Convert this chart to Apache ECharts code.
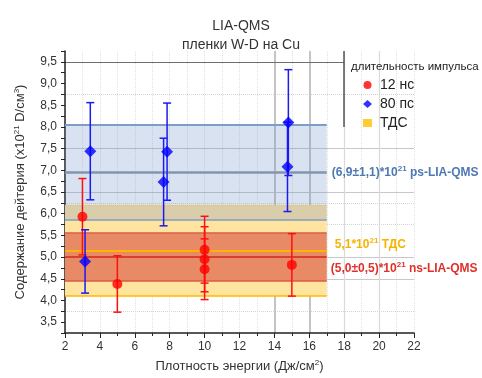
<!DOCTYPE html>
<html>
<head>
<meta charset="utf-8">
<script src="https://cdn.jsdelivr.net/npm/echarts@6/dist/echarts.min.js"></script>
<style>
  html, body { margin: 0; padding: 0; background: #fff; }
  #chart { width: 482px; height: 378px; }
</style>
</head>
<body>
<div id="chart"></div>
<script>
// 12 ns points (red)
const nsX = [3, 5, 10, 10, 10, 15];
const nsY = [5.93, 4.38, 5.17, 4.95, 4.72, 4.82];
const nsErr = [0.88, 0.65, 0.77, 0.75, 0.70, 0.72];

// 80 ps points (blue)
const psX = [3.15, 3.45, 7.65, 7.85, 14.8, 14.75];
const psY = [4.90, 7.44, 6.73, 7.43, 8.10, 7.08];
const psErr = [0.73, 1.12, 1.01, 1.12, 1.22, 1.03];

// bands: [low, mean, high]
const bandX = [2, 17];
const psBand = [5.85, 6.95, 8.05];
const tdsBand = [4.10, 5.15, 6.20];
const nsBand = [4.45, 5.00, 5.55];

const gridYSolid = [7.5, 6.5, 5.0, 4.5];
const gridYDotted = [8.75, 6.25, 5.75, 3.75];
const gridXSolid = [14, 16, 18, 20];

const comma = v => String(v).replace('.', ',');

const chart = echarts.init(document.getElementById('chart'));

function errBars(xs, ys, es) {
  return xs.map((x, i) => [x, ys[i], es[i]]);
}

function renderErr(params, api) {
  const x = api.value(0), y = api.value(1), e = api.value(2);
  const top = api.coord([x, y + e]);
  const bot = api.coord([x, y - e]);
  const style = { stroke: api.visual('color'), lineWidth: 1.5 };
  const cap = 4;
  return {
    type: 'group',
    children: [
      { type: 'line', shape: { x1: top[0], y1: top[1], x2: bot[0], y2: bot[1] }, style },
      { type: 'line', shape: { x1: top[0] - cap, y1: top[1], x2: top[0] + cap, y2: top[1] }, style },
      { type: 'line', shape: { x1: bot[0] - cap, y1: bot[1], x2: bot[0] + cap, y2: bot[1] }, style }
    ]
  };
}

function hLine(y, x0, x1, color, width, type) {
  return [
    { coord: [x0, y], lineStyle: { color, width, type: type || 'solid' } },
    { coord: [x1, y] }
  ];
}

const supRich = (color) => ({
  a: { color, fontSize: 12, fontWeight: 'bold', fontFamily: 'Liberation Sans' },
  s: { color, fontSize: 8, fontWeight: 'bold', fontFamily: 'Liberation Sans', verticalAlign: 'top', padding: [0, 0, 7, 0] }
});

const option = {
  animation: false,
  backgroundColor: '#fff',
  title: [
    {
      text: 'LIA-QMS\nпленки W-D на Cu',
      left: 'center',
      top: 12,
      textStyle: { fontSize: 14, fontWeight: 'normal', color: '#333', lineHeight: 19, fontFamily: 'Liberation Sans' }
    },
    {
      text: 'длительность импульса',
      left: 346,
      top: 56,
      textStyle: { fontSize: 11.5, fontWeight: 'normal', color: '#222', fontFamily: 'Liberation Sans' }
    }
  ],
  legend: {
    orient: 'vertical',
    left: 358,
    top: 73,
    itemGap: 5,
    itemWidth: 9,
    itemHeight: 8,
    textStyle: { fontSize: 14, color: '#222', fontFamily: 'Liberation Sans', padding: [0, 0, 0, 3] },
    data: ['12 нс', '80 пс', 'ТДС']
  },
  grid: { left: 65, right: 68, top: 51, bottom: 44 },
  xAxis: {
    type: 'value',
    min: 2,
    max: 22,
    interval: 2,
    name: 'Плотность энергии (Дж/см{s|2})',
    nameLocation: 'middle',
    nameGap: 26,
    nameTextStyle: {
      fontSize: 13, color: '#333', fontFamily: 'Liberation Sans',
      rich: { s: { fontSize: 8, verticalAlign: 'top', padding: [0, 0, 7, 0], color: '#333' } }
    },
    axisLine: { show: true, lineStyle: { color: '#222', width: 1.5 } },
    axisTick: { show: true, length: 5, lineStyle: { color: '#222' } },
    minorTick: { show: true, splitNumber: 2, length: 3, lineStyle: { color: '#222' } },
    axisLabel: { fontSize: 12, color: '#333', fontFamily: 'Liberation Sans' },
    splitLine: { show: true, lineStyle: { color: '#e2e2e2', type: 'dotted' } },
    minorSplitLine: { show: true, lineStyle: { color: '#e2e2e2', type: 'dotted' } }
  },
  yAxis: {
    type: 'value',
    min: 3.25,
    max: 9.75,
    interval: 0.25,
    name: 'Содержание дейтерия (x10{s|21} D/см{s|3})',
    nameLocation: 'middle',
    nameRotate: 90,
    nameGap: 37,
    nameTextStyle: {
      fontSize: 13, color: '#333', fontFamily: 'Liberation Sans',
      rich: { s: { fontSize: 8, verticalAlign: 'top', padding: [0, 0, 7, 0], color: '#333' } }
    },
    axisLine: { show: true, lineStyle: { color: '#222', width: 1.5 } },
    axisTick: { show: true, length: 4, lineStyle: { color: '#222' } },
    axisLabel: {
      fontSize: 12, color: '#333', fontFamily: 'Liberation Sans',
      formatter: v => (Math.abs(v * 2 - Math.round(v * 2)) < 1e-6 ? comma(v.toFixed(1)) : '')
    },
    splitLine: { show: false }
  },
  series: [
    // background grid lines
    {
      type: 'line', data: [], silent: true,
      markLine: {
        z: 0,
        silent: true, symbol: 'none', label: { show: false },
        data: [
          ...gridYSolid.map(y => hLine(y, 2, 22, '#c8c8c8', 1)),
          ...gridYDotted.map(y => hLine(y, 2, 22, '#d4d4d4', 1, 'dotted')),
          ...gridXSolid.map(x => [
            { coord: [x, 3.25], lineStyle: { color: x < 17 ? '#c4c4c4' : '#dadada', width: x < 17 ? 2 : 1.2, type: 'solid' } },
            { coord: [x, 9.75] }
          ]),
          hLine(9.5, 2, 18, '#6e6e6e', 1.2),
          [
            { coord: [18, 9.75], lineStyle: { color: '#555', width: 1.5, type: 'solid' } },
            { coord: [18, 8.0] }
          ]
        ]
      }
    },
    // TDS band (yellow)
    {
      name: 'ТДС', type: 'scatter', data: [], symbol: 'rect', symbolSize: 8,
      itemStyle: { color: '#FFC000' },
      markArea: {
        z: 1,
        silent: true,
        itemStyle: { color: '#FFE4A0' },
        data: [[{ coord: [bandX[0], tdsBand[0]] }, { coord: [bandX[1], tdsBand[2]] }]]
      }
    },
    // ns band (red)
    {
      type: 'line', data: [], silent: true,
      markArea: {
        z: 1,
        silent: true,
        itemStyle: { color: '#E98A66' },
        data: [[{ coord: [bandX[0], nsBand[0]] }, { coord: [bandX[1], nsBand[2]] }]]
      }
    },
    // ps band (blue, translucent)
    {
      type: 'line', data: [], silent: true,
      markArea: {
        z: 1,
        silent: true,
        itemStyle: { color: 'rgba(104,140,196,0.25)' },
        data: [[{ coord: [bandX[0], psBand[0]] }, { coord: [bandX[1], psBand[2]] }]]
      }
    },
    // band edge and mean lines with labels
    {
      type: 'line', data: [], silent: true,
      markLine: {
        z: 2,
        silent: true, symbol: 'none', label: { show: false },
        data: [
          hLine(tdsBand[0], bandX[0], bandX[1], '#FFB800', 1.5),
          hLine(tdsBand[2], bandX[0], bandX[1], '#E8C878', 1),
          hLine(nsBand[0], bandX[0], bandX[1], '#D95A48', 1.5),
          hLine(nsBand[2], bandX[0], bandX[1], '#D95A48', 1.5),
          hLine(psBand[0], bandX[0], bandX[1], '#7E9CC8', 1.5),
          hLine(psBand[2], bandX[0], bandX[1], '#7E9CC8', 2),
          [
            {
              coord: [bandX[0], psBand[1]], lineStyle: { color: '#8394AE', width: 2.5, type: 'solid' },
              label: {
                show: true, position: 'end', distance: 5,
                formatter: '{a|(6,9±1,1)*10}{s|21}{a| ps-LIA-QMS}',
                rich: supRich('#4E78B4')
              }
            },
            { coord: [bandX[1], psBand[1]] }
          ],
          [
            {
              coord: [bandX[0], tdsBand[1]], lineStyle: { color: '#FFB400', width: 2, type: 'solid' },
              label: {
                show: true, position: 'end', distance: 8,
                padding: [0, 0, 12, 0],
                formatter: '{a|5,1*10}{s|21}{a| ТДС}',
                rich: supRich('#F5B400')
              }
            },
            { coord: [bandX[1], tdsBand[1]] }
          ],
          [
            {
              coord: [bandX[0], nsBand[1]], lineStyle: { color: '#D8402E', width: 2, type: 'solid' },
              label: {
                show: true, position: 'end', distance: 4,
                padding: [23, 0, 0, 0],
                formatter: '{a|(5,0±0,5)*10}{s|21}{a| ns-LIA-QMS}',
                rich: supRich('#E0302A')
              }
            },
            { coord: [bandX[1], nsBand[1]] }
          ]
        ]
      }
    },
    // error bars
    {
      type: 'custom', silent: true,
      itemStyle: { color: '#FF1010' },
      renderItem: renderErr,
      encode: { x: 0, y: 1 },
      data: errBars(nsX, nsY, nsErr),
      z: 3
    },
    {
      type: 'custom', silent: true,
      itemStyle: { color: '#1A1AF5' },
      renderItem: renderErr,
      encode: { x: 0, y: 1 },
      data: errBars(psX, psY, psErr),
      z: 3
    },
    // points
    {
      name: '12 нс', type: 'scatter', symbol: 'circle', symbolSize: 10,
      itemStyle: { color: '#FF0000' },
      data: nsX.map((x, i) => [x, nsY[i]]),
      z: 4
    },
    {
      name: '80 пс', type: 'scatter', symbol: 'diamond', symbolSize: 12,
      itemStyle: { color: '#0000FF' },
      data: psX.map((x, i) => [x, psY[i]]),
      z: 4
    }
  ]
};

chart.setOption(option);
</script>
</body>
</html>
